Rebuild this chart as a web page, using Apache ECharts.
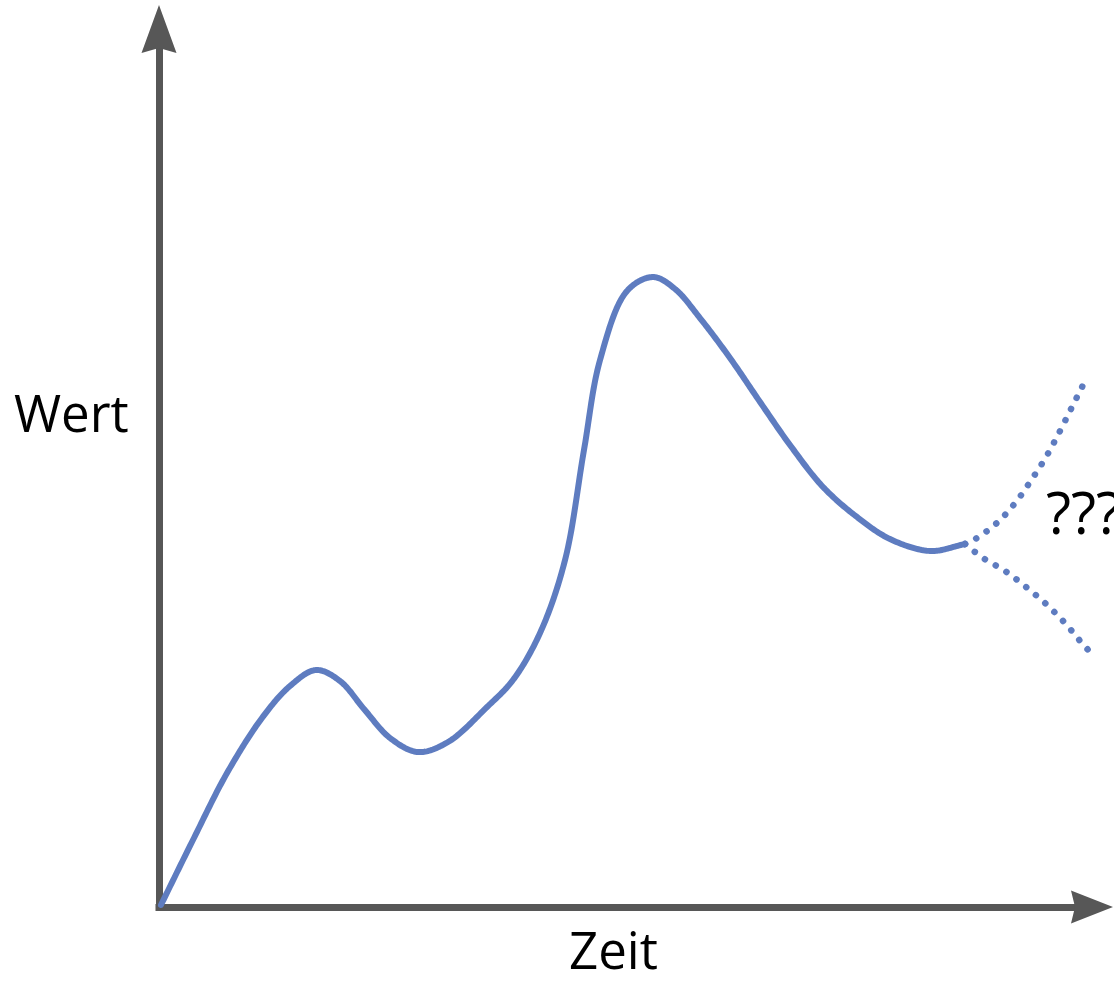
<!DOCTYPE html>
<html>
<head>
<meta charset="utf-8">
<script src="https://cdn.jsdelivr.net/npm/echarts@6/dist/echarts.min.js"></script>
<style>html,body{margin:0;padding:0;background:#fff;}#c{width:1114px;height:981px;}</style>
</head>
<body>
<div id="c"></div>
<script>
// Main curve (Zeit, Wert)
const mainX = [0.21, 3.64, 7.29, 11.04, 14.04, 16.83, 19.40, 21.97, 24.76, 27.76, 30.98, 35.16, 37.94, 40.84, 43.52, 45.55, 47.27, 50.16, 52.95, 55.31, 57.98, 61.20, 64.42, 67.63, 71.17, 74.81, 78.35, 82.64, 86.39];
const mainY = [0.23, 7.63, 15.26, 21.53, 25.17, 26.99, 25.74, 22.55, 19.25, 17.65, 18.79, 22.78, 25.85, 31.21, 39.52, 52.05, 62.30, 70.16, 71.75, 70.39, 67.08, 62.53, 57.52, 52.62, 47.84, 44.42, 41.91, 40.55, 41.34];
// Dotted forecast branches
const upX = [86.39, 87.67, 89.92, 91.85, 93.57, 95.07, 96.46, 97.75, 99.04];
const upY = [41.34, 42.03, 43.85, 46.13, 48.75, 51.25, 53.99, 56.72, 59.45];
const lowX = [86.39, 88.32, 90.68, 92.93, 95.07, 97.00, 98.82, 99.79];
const lowY = [41.34, 39.75, 38.27, 36.45, 34.51, 32.46, 30.18, 29.04];
// Labels
const xName = 'Zeit';
const yName = 'Wert';
const questionText = '???';

const zip = (a, b) => a.map((v, i) => [v, b[i]]);
const axisColor = '#575757';
const lineColor = '#5e7cc0';
const arrowY = 'path://M17.5,0L35,48L17.5,43L0,48Z';
const arrowX = 'path://M16.5,0L33,42L16.5,38L0,42Z';

// Centripetal Catmull-Rom smoothing of the pixel points returned by the axes
function spline(pts, seg) {
  const n = pts.length;
  const P = [[2 * pts[0][0] - pts[1][0], 2 * pts[0][1] - pts[1][1]]].concat(pts,
    [[2 * pts[n - 1][0] - pts[n - 2][0], 2 * pts[n - 1][1] - pts[n - 2][1]]]);
  const dt = (a, b) => Math.max(Math.sqrt(Math.hypot(b[0] - a[0], b[1] - a[1])), 1e-4);
  const lerp = (a, b, ta, tb, t) => [
    ((tb - t) * a[0] + (t - ta) * b[0]) / (tb - ta),
    ((tb - t) * a[1] + (t - ta) * b[1]) / (tb - ta)];
  const out = [pts[0]];
  for (let i = 1; i < P.length - 2; i++) {
    const p0 = P[i - 1], p1 = P[i], p2 = P[i + 1], p3 = P[i + 2];
    const t0 = 0, t1 = t0 + dt(p0, p1), t2 = t1 + dt(p1, p2), t3 = t2 + dt(p2, p3);
    for (let s = 1; s <= seg; s++) {
      const t = t1 + (t2 - t1) * s / seg;
      const A1 = lerp(p0, p1, t0, t1, t), A2 = lerp(p1, p2, t1, t2, t), A3 = lerp(p2, p3, t2, t3, t);
      const B1 = lerp(A1, A2, t0, t2, t), B2 = lerp(A2, A3, t1, t3, t);
      out.push(lerp(B1, B2, t1, t2, t));
    }
  }
  return out;
}
function curveSeries(xs, ys, style) {
  return {
    type: 'custom', data: zip(xs, ys), clip: false, silent: true,
    encode: {x: 0, y: 1},
    renderItem: (params, api) => {
      if (params.dataIndex !== 0) return null;
      const pts = xs.map((x, i) => api.coord([x, ys[i]]));
      return {type: 'polyline', shape: {points: spline(pts, 24)},
        style: Object.assign({fill: 'none', stroke: lineColor, lineCap: 'round', lineJoin: 'round'}, style)};
    }
  };
}

const chart = echarts.init(document.getElementById('c'), null, {renderer: 'canvas'});
chart.setOption({
  animation: false,
  grid: {left: 159, right: 22, top: 29, bottom: 74},
  xAxis: {
    type: 'value', min: 0, max: 100,
    axisLine: {show: true, symbol: ['none', arrowX], symbolSize: [33, 42],
      lineStyle: {color: axisColor, width: 7, cap: 'square'}},
    axisTick: {show: false}, axisLabel: {show: false}, splitLine: {show: false}
  },
  yAxis: {
    type: 'value', min: 0, max: 100,
    axisLine: {show: true, symbol: ['none', arrowY], symbolSize: [35, 48],
      lineStyle: {color: axisColor, width: 7, cap: 'square'}},
    axisTick: {show: false}, axisLabel: {show: false}, splitLine: {show: false}
  },
  graphic: [
    {type: 'text', left: 14, top: 392, style: {text: yName, font: '51px "Open Sans"', fill: '#000'}},
    {type: 'text', left: 569, top: 929, style: {text: xName, font: '51px "Open Sans"', fill: '#000'}},
    {type: 'text', left: 1046, top: 488, style: {text: questionText, font: '58px "Open Sans"', fill: '#000'}}
  ],
  series: [
    curveSeries(mainX, mainY, {lineWidth: 6}),
    curveSeries(upX, upY, {lineWidth: 6.5, lineDash: [0.1, 12.4]}),
    curveSeries(lowX, lowY, {lineWidth: 6.5, lineDash: [0.1, 12.4]})
  ]
});
</script>
</body>
</html>
